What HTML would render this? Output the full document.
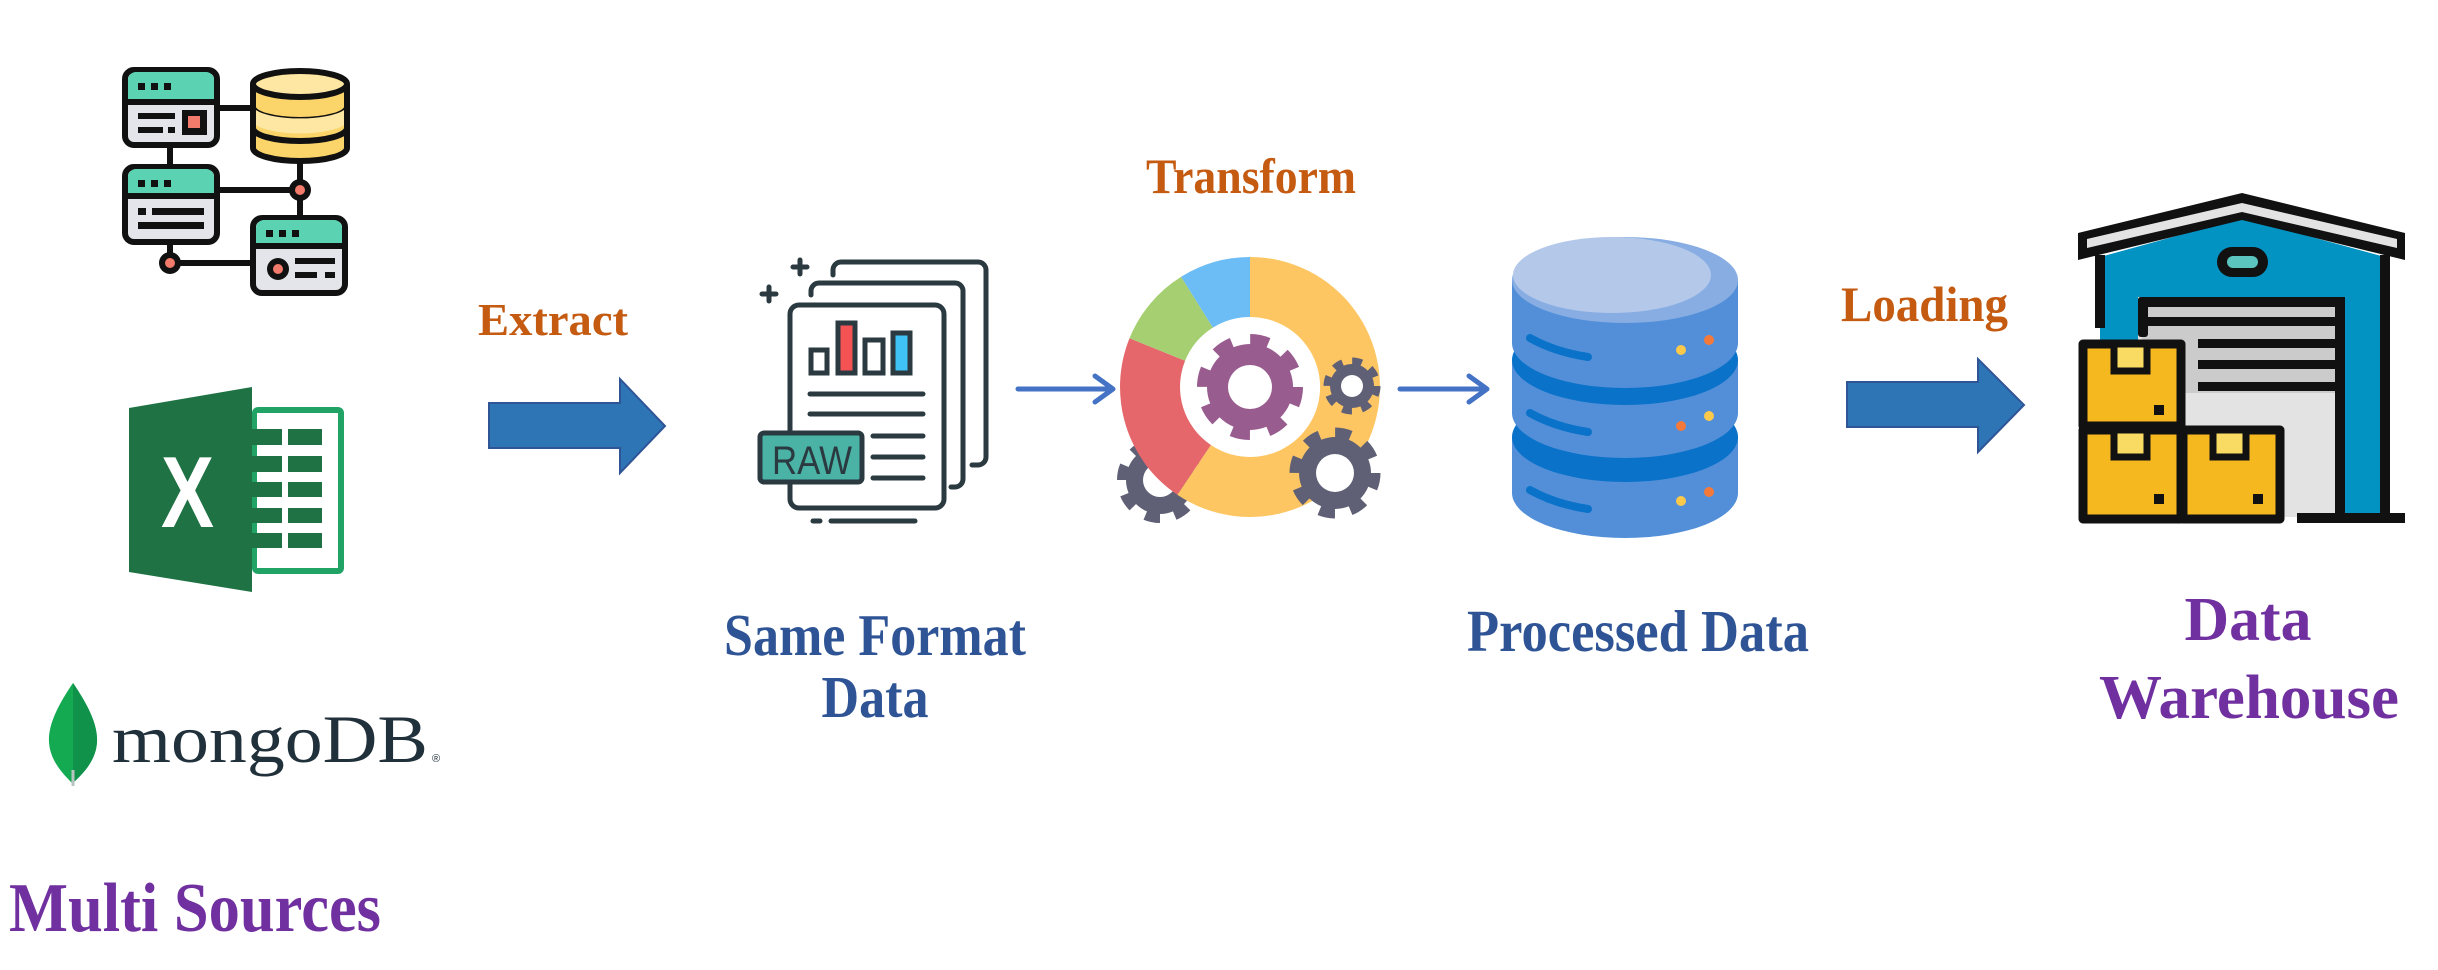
<!DOCTYPE html>
<html><head><meta charset="utf-8"><style>html,body{margin:0;padding:0;background:#fff}svg{display:block}</style></head>
<body>
<svg width="2438" height="970" viewBox="0 0 2438 970" xmlns="http://www.w3.org/2000/svg" font-family="Liberation Serif, serif" font-weight="bold">
<rect width="2438" height="970" fill="#fff"/>

<!-- Server network icon -->
<g stroke="#111" stroke-width="6">
  <line x1="217" y1="108" x2="250" y2="108"/>
  <line x1="170" y1="145" x2="170" y2="167"/>
  <line x1="217" y1="190" x2="300" y2="190"/>
  <line x1="300" y1="162" x2="300" y2="218"/>
  <line x1="170" y1="242" x2="170" y2="263"/>
  <line x1="170" y1="263" x2="253" y2="263"/>
</g>
<g stroke="#111" stroke-width="6">
  <rect x="125" y="70" width="92" height="75" rx="9" fill="#e3e5ea"/>
  <path d="M128 100 V80 a8 8 0 0 1 8-8 H206 a8 8 0 0 1 8 8 V100 Z" fill="#5bd3b2" stroke="none"/>
  <line x1="125" y1="102" x2="217" y2="102"/>
  <rect x="125" y="167" width="92" height="75" rx="9" fill="#e3e5ea"/>
  <path d="M128 194 V177 a8 8 0 0 1 8-8 H206 a8 8 0 0 1 8 8 V194 Z" fill="#5bd3b2" stroke="none"/>
  <line x1="125" y1="196" x2="217" y2="196"/>
  <rect x="253" y="218" width="92" height="75" rx="9" fill="#e3e5ea"/>
  <path d="M256 244 V228 a8 8 0 0 1 8-8 H334 a8 8 0 0 1 8 8 V244 Z" fill="#5bd3b2" stroke="none"/>
  <line x1="253" y1="246" x2="345" y2="246"/>
</g>
<g fill="#111">
  <rect x="138" y="83" width="7" height="7"/><rect x="151" y="83" width="7" height="7"/><rect x="164" y="83" width="7" height="7"/>
  <rect x="138" y="113" width="37" height="6"/><rect x="138" y="127" width="25" height="6"/><rect x="168" y="127" width="7" height="6"/>
  <rect x="182" y="110" width="25" height="25"/>
  <rect x="138" y="180" width="7" height="7"/><rect x="151" y="180" width="7" height="7"/><rect x="164" y="180" width="7" height="7"/>
  <rect x="138" y="208" width="8" height="7"/><rect x="152" y="208" width="52" height="7"/><rect x="138" y="222" width="66" height="7"/>
  <rect x="266" y="230" width="7" height="7"/><rect x="279" y="230" width="7" height="7"/><rect x="292" y="230" width="7" height="7"/>
  <rect x="295" y="258" width="40" height="6"/><rect x="295" y="272" width="22" height="6"/><rect x="325" y="272" width="10" height="6"/>
  <circle cx="278" cy="269" r="11"/>
</g>
<rect x="188" y="116" width="12" height="12" fill="#f27b6b"/>
<circle cx="278" cy="269" r="5" fill="#f27b6b"/>
<circle cx="300" cy="190" r="11" fill="#111"/><circle cx="300" cy="190" r="5" fill="#f27b6b"/>
<circle cx="170" cy="263" r="11" fill="#111"/><circle cx="170" cy="263" r="5" fill="#f27b6b"/>
<!-- yellow db -->
<g stroke="#111" stroke-width="6">
  <path d="M253 84 V148 A47 13 0 0 0 347 148 V84" fill="#fbd46a"/>
  <path d="M253 107 A47 13 0 0 0 347 107" fill="none"/>
  <path d="M253 128 A47 13 0 0 0 347 128" fill="none"/>
  <ellipse cx="300" cy="84" rx="47" ry="13" fill="#fde7a2"/>
</g>
<path d="M256 110 A47 13 0 0 0 344 110 V125 A47 13 0 0 1 256 125 Z" fill="#fde7a2"/>

<!-- Excel -->
<rect x="252" y="407" width="92" height="167" rx="6" fill="#21a366"/>
<rect x="257" y="413" width="81" height="155" fill="#fff"/>
<g fill="#1f7244">
  <rect x="252" y="429" width="30" height="16"/><rect x="288" y="429" width="34" height="16"/>
  <rect x="252" y="456" width="30" height="16"/><rect x="288" y="456" width="34" height="16"/>
  <rect x="252" y="482" width="30" height="15"/><rect x="288" y="482" width="34" height="15"/>
  <rect x="252" y="508" width="30" height="15"/><rect x="288" y="508" width="34" height="15"/>
  <rect x="252" y="533" width="30" height="15"/><rect x="288" y="533" width="34" height="15"/>
</g>
<polygon points="129,408 252,387 252,592 129,572" fill="#1f7244"/>
<text x="161" y="527" font-family="Liberation Sans, sans-serif" font-size="101" fill="#fff" textLength="53" lengthAdjust="spacingAndGlyphs">X</text>

<!-- mongoDB -->
<path d="M73 683 C58 705 48 725 49 742 C50 760 62 773 72 783 C84 773 96 760 97 742 C98 725 88 705 73 683 Z" fill="#13aa52"/>
<path d="M73 683 C88 705 98 725 97 742 C96 760 84 773 73 783 Z" fill="#10924b"/>
<line x1="73" y1="770" x2="73" y2="786" stroke="#b8c4c2" stroke-width="3"/>
<text x="112" y="762" font-weight="normal" font-size="68" fill="#21313c" textLength="316" lengthAdjust="spacingAndGlyphs">mongoDB</text>
<text x="432" y="762" font-weight="normal" font-family="Liberation Sans, sans-serif" font-size="11" fill="#21313c">®</text>

<text x="9" y="931" font-size="70" fill="#7030a0" textLength="372" lengthAdjust="spacingAndGlyphs">Multi Sources</text>

<!-- Extract -->
<text x="478" y="335" font-size="46" fill="#c55a11" textLength="150" lengthAdjust="spacingAndGlyphs">Extract</text>
<polygon points="489,403 620,403 620,379 665,426 620,473 620,448 489,448" fill="#2e75b6" stroke="#2f5597" stroke-width="2"/>

<!-- Doc icon -->
<g fill="none" stroke="#2b3a40" stroke-width="5" stroke-linecap="round">
  <path d="M833 275 V270 a8 8 0 0 1 8-8 H978 a8 8 0 0 1 8 8 V457 a8 8 0 0 1-8 8 H972"/>
  <path d="M811 295 V291 a8 8 0 0 1 8-8 H955 a8 8 0 0 1 8 8 V479 a8 8 0 0 1-8 8 H951"/>
  <rect x="790" y="305" width="154" height="203" rx="9" fill="#fff"/>
  <rect x="811" y="350" width="16" height="23" fill="#fff"/>
  <rect x="838" y="323" width="17" height="50" fill="#f55353"/>
  <rect x="865" y="340" width="18" height="33" fill="#fff"/>
  <rect x="893" y="333" width="17" height="40" fill="#3fc3f7"/>
  <line x1="810" y1="394" x2="923" y2="394"/><line x1="810" y1="414" x2="923" y2="414"/>
  <line x1="873" y1="436" x2="923" y2="436"/><line x1="873" y1="457" x2="923" y2="457"/><line x1="873" y1="478" x2="923" y2="478"/>
  <line x1="800" y1="260" x2="800" y2="274"/><line x1="793" y1="267" x2="807" y2="267"/>
  <line x1="769" y1="287" x2="769" y2="301"/><line x1="762" y1="294" x2="776" y2="294"/>
  <line x1="813" y1="521" x2="820" y2="521"/><line x1="831" y1="521" x2="915" y2="521"/>
  <rect x="760" y="433" width="102" height="49" rx="4" fill="#4ab3a6"/>
</g>
<text x="772" y="474" font-family="Liberation Sans, sans-serif" font-weight="normal" font-size="40" fill="#2b3a40" textLength="80" lengthAdjust="spacingAndGlyphs">RAW</text>

<text x="875" y="655" font-size="59" fill="#2f5496" text-anchor="middle" textLength="302" lengthAdjust="spacingAndGlyphs">Same Format</text>
<text x="875" y="717" font-size="59" fill="#2f5496" text-anchor="middle" textLength="107" lengthAdjust="spacingAndGlyphs">Data</text>

<!-- small arrows -->
<g stroke="#4472c4" stroke-width="5" fill="none" stroke-linecap="round" stroke-linejoin="round">
  <line x1="1018" y1="389" x2="1112" y2="389"/><polyline points="1095,376 1113,389 1095,402"/>
  <line x1="1400" y1="389" x2="1486" y2="389"/><polyline points="1469,376 1487,389 1469,402"/>
</g>

<!-- Transform -->
<text x="1146" y="193" font-size="50" fill="#c55a11" textLength="210" lengthAdjust="spacingAndGlyphs">Transform</text>
<!-- back gear -->
<g fill="#5f6075">
  <circle cx="1160" cy="480" r="34"/>
  <circle cx="1160" cy="480" r="38" fill="none" stroke="#5f6075" stroke-width="10" stroke-dasharray="14.9 14.9"/>
</g>
<circle cx="1160" cy="480" r="17" fill="#fff"/>
<!-- donut -->
<g transform="translate(1250,387)">
  <path d="M0,-130 A130 130 0 1 1 -72.7,107.8 L-39.1,58 A70 70 0 1 0 0,-70 Z" fill="#fdc663"/>
  <path d="M-72.7,107.8 A130 130 0 0 1 -120.5,-48.7 L-64.9,-26.2 A70 70 0 0 0 -39.1,58 Z" fill="#e5676b"/>
  <path d="M-120.5,-48.7 A130 130 0 0 1 -68.9,-110.2 L-37.1,-59.4 A70 70 0 0 0 -64.9,-26.2 Z" fill="#a6cf72"/>
  <path d="M-68.9,-110.2 A130 130 0 0 1 0,-130 L0,-70 A70 70 0 0 0 -37.1,-59.4 Z" fill="#6cbcf6"/>
</g>
<!-- purple gear -->
<circle cx="1250" cy="387" r="43" fill="#985c8f"/>
<circle cx="1250" cy="387" r="46" fill="none" stroke="#985c8f" stroke-width="14" stroke-dasharray="18 18.1"/>
<circle cx="1250" cy="387" r="22" fill="#fff"/>
<!-- small gray gear -->
<circle cx="1352" cy="386" r="22" fill="#5f6075"/>
<circle cx="1352" cy="386" r="24" fill="none" stroke="#5f6075" stroke-width="9" stroke-dasharray="9.4 9.45"/>
<circle cx="1352" cy="386" r="11" fill="#fff"/>
<!-- big gray gear -->
<circle cx="1335" cy="473" r="36" fill="#5f6075"/>
<circle cx="1335" cy="473" r="39" fill="none" stroke="#5f6075" stroke-width="13" stroke-dasharray="15.3 15.3"/>
<circle cx="1335" cy="473" r="19" fill="#fff"/>

<!-- Database cylinder -->
<g>
  <rect x="1512" y="437" width="226" height="56" fill="#528fd8"/><ellipse cx="1625" cy="493" rx="113" ry="45" fill="#528fd8"/>
  <ellipse cx="1625" cy="437" rx="113" ry="45" fill="#0a72c9"/>
  <rect x="1512" y="360" width="226" height="53" fill="#528fd8"/><ellipse cx="1625" cy="413" rx="113" ry="45" fill="#528fd8"/>
  <ellipse cx="1625" cy="360" rx="113" ry="45" fill="#0a72c9"/>
  <rect x="1512" y="280" width="226" height="63" fill="#528fd8"/><ellipse cx="1625" cy="343" rx="113" ry="45" fill="#528fd8"/>
  <ellipse cx="1625" cy="280" rx="113" ry="43" fill="#87ade3"/>
  <ellipse cx="1612" cy="275" rx="99" ry="38" fill="#b4c8ea"/>
</g>
<g stroke="#0a72c9" stroke-width="8" stroke-linecap="round" fill="none">
  <path d="M1530 338 Q1555 352 1588 357"/>
  <path d="M1530 413 Q1555 427 1588 432"/>
  <path d="M1530 490 Q1555 504 1588 509"/>
</g>
<circle cx="1681" cy="350" r="5" fill="#fdc94a"/><circle cx="1709" cy="340" r="5" fill="#f57a3a"/>
<circle cx="1681" cy="426" r="5" fill="#f57a3a"/><circle cx="1709" cy="416" r="5" fill="#fdc94a"/>
<circle cx="1681" cy="501" r="5" fill="#fdc94a"/><circle cx="1709" cy="492" r="5" fill="#f57a3a"/>

<text x="1638" y="651" font-size="59" fill="#2f5496" text-anchor="middle" textLength="342" lengthAdjust="spacingAndGlyphs">Processed Data</text>

<!-- Loading -->
<text x="1841" y="321" font-size="50" fill="#c55a11" textLength="167" lengthAdjust="spacingAndGlyphs">Loading</text>
<polygon points="1847,382 1978,382 1978,359 2024,405 1978,452 1978,427 1847,427" fill="#2e75b6" stroke="#2f5597" stroke-width="2"/>

<!-- Warehouse -->
<polygon points="2100,257 2242,218 2385,257 2385,517 2100,517" fill="#0293c2"/>
<rect x="2138" y="297" width="207" height="220" fill="#e3e3e3"/>
<rect x="2142" y="302" width="199" height="91" fill="#cbcbcb"/>
<g fill="#111">
  <rect x="2138" y="297" width="207" height="10" rx="3"/>
  <rect x="2138" y="297" width="10" height="40" rx="3"/>
  <rect x="2138" y="317" width="200" height="9"/>
  <rect x="2335" y="297" width="10" height="226"/>
  <rect x="2198" y="339" width="140" height="9"/>
  <rect x="2198" y="360" width="140" height="9"/>
  <rect x="2198" y="382" width="140" height="9"/>
  <rect x="2380" y="255" width="10" height="268"/>
  <rect x="2095" y="255" width="10" height="73"/>
  <rect x="2297" y="513" width="108" height="10"/>
</g>
<path d="M2078 233 L2242 193 L2405 233 L2405 260 L2242 220 L2078 260 Z" fill="#111"/>
<path d="M2087 239 L2242 203 L2397 239 L2397 248 L2242 212 L2087 248 Z" fill="#e3e3e3"/>
<rect x="2217" y="247" width="51" height="30" rx="15" fill="#111"/>
<rect x="2227" y="256" width="31" height="12" rx="6" fill="#5bc4bf"/>
<g stroke="#111" stroke-width="9" stroke-linejoin="round">
  <rect x="2083" y="344" width="98" height="82" fill="#f6b81f"/>
  <rect x="2083" y="430" width="98" height="89" fill="#f6b81f"/>
  <rect x="2183" y="430" width="97" height="89" fill="#f6b81f"/>
</g>
<g fill="#f9da63" stroke="#111" stroke-width="7">
  <rect x="2114" y="344" width="33" height="27"/>
  <rect x="2114" y="430" width="33" height="27"/>
  <rect x="2213" y="430" width="33" height="27"/>
</g>
<g fill="#111"><rect x="2154" y="405" width="10" height="10"/><rect x="2154" y="494" width="10" height="10"/><rect x="2253" y="494" width="10" height="10"/></g>

<text x="2248" y="640" font-size="62" fill="#7030a0" text-anchor="middle" textLength="127" lengthAdjust="spacingAndGlyphs">Data</text>
<text x="2249" y="718" font-size="62" fill="#7030a0" text-anchor="middle" textLength="300" lengthAdjust="spacingAndGlyphs">Warehouse</text>
</svg>
</body></html>
